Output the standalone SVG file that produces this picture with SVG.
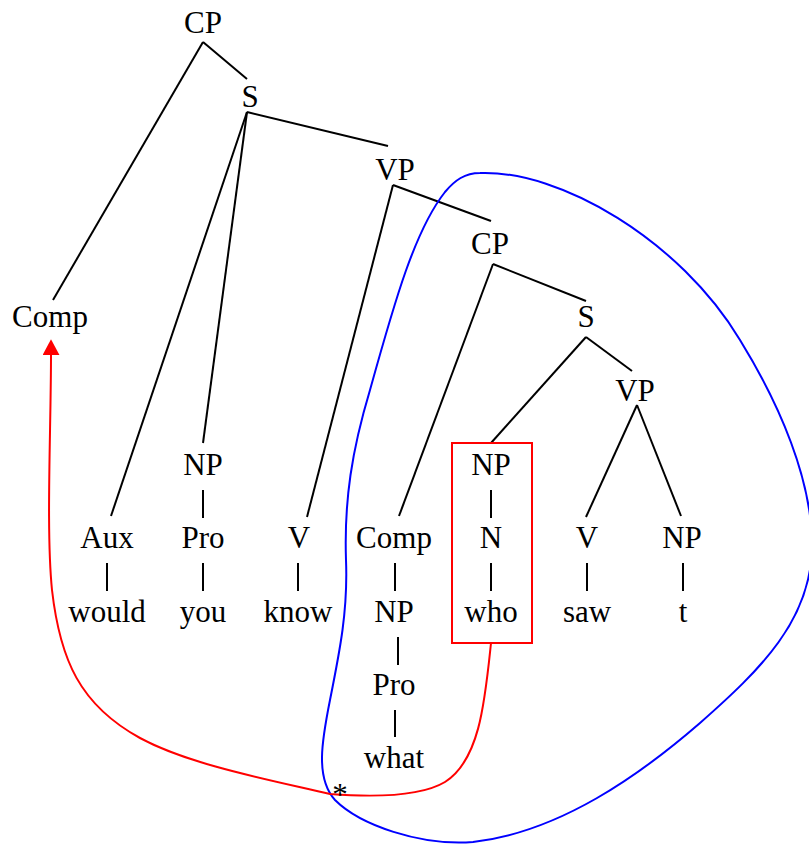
<svg xmlns="http://www.w3.org/2000/svg" width="809" height="844" viewBox="0 0 809 844">
<style>
  text { font-family: "Liberation Serif", "Times New Roman", serif; font-size: 31px; fill: #000; text-anchor: middle; }
  .edge { stroke: #000; stroke-width: 2; fill: none; }
  .move { stroke: #ff0000; stroke-width: 2; fill: none; }
  .island { stroke: #0000ff; stroke-width: 2; fill: none; }
  .box { stroke: #ff0000; stroke-width: 2; fill: none; }
</style>
<defs>
  <marker id="arrow" markerUnits="userSpaceOnUse" markerWidth="16" markerHeight="17" viewBox="0 0 15 16" refX="1" refY="8" orient="auto">
    <path d="M0,0 L15,8 L0,16 Z" fill="#ff0000"/>
  </marker>
</defs>
<rect width="809" height="844" fill="#ffffff"/>

<g id="connectors">
  <line class="edge" x1="203" y1="42" x2="53" y2="300"/>
  <line class="edge" x1="203" y1="42" x2="247" y2="79"/>
  <line class="edge" x1="247" y1="112" x2="111" y2="516"/>
  <line class="edge" x1="247" y1="112" x2="203" y2="443"/>
  <line class="edge" x1="247" y1="112" x2="388" y2="146"/>
  <line class="edge" x1="393" y1="185" x2="307" y2="517"/>
  <line class="edge" x1="393" y1="185" x2="491" y2="221"/>
  <line class="edge" x1="493" y1="264" x2="399" y2="516"/>
  <line class="edge" x1="493" y1="264" x2="586" y2="301"/>
  <line class="edge" x1="586" y1="337" x2="491" y2="443"/>
  <line class="edge" x1="586" y1="337" x2="632" y2="371"/>
  <line class="edge" x1="637" y1="405" x2="586" y2="517"/>
  <line class="edge" x1="637" y1="405" x2="681" y2="516"/>
  <line class="edge" x1="203" y1="490" x2="203" y2="518"/>
  <line class="edge" x1="491" y1="490" x2="491" y2="518"/>
  <line class="edge" x1="107" y1="563" x2="107" y2="591"/>
  <line class="edge" x1="203" y1="563" x2="203" y2="591"/>
  <line class="edge" x1="298" y1="563" x2="298" y2="591"/>
  <line class="edge" x1="395" y1="563" x2="395" y2="591"/>
  <line class="edge" x1="491" y1="563" x2="491" y2="591"/>
  <line class="edge" x1="587" y1="563" x2="587" y2="591"/>
  <line class="edge" x1="683" y1="563" x2="683" y2="591"/>
  <line class="edge" x1="398" y1="637" x2="398" y2="665"/>
  <line class="edge" x1="395" y1="710" x2="395" y2="737"/>
  <path id="island" class="island" d="M480,173 C560,170 680,240 740,340 C780,405 812,480 812,545 C812,620 760,670 700,723 C640,775 560,832 473,842 C420,846 360,825 335,800 C315,778 322,740 330,700 C340,650 348,610 346,560 C344,500 352,450 370,390 C395,300 415,230 445,192 C455,180 465,173 480,173 Z"/>
  <path id="movement" class="move" d="M491,643 C485,700 480,760 445,782 C420,797 370,797 330,794 C270,780 190,765 140,738 C80,705 60,660 52,590 C46,530 51,430 51,354" marker-end="url(#arrow)"/>
</g>

<g id="cp1"><text x="203" y="33">CP</text></g>
<g id="s1"><text x="250" y="107">S</text></g>
<g id="vp1"><text x="395" y="180">VP</text></g>
<g id="cp2"><text x="490" y="254">CP</text></g>
<g id="comp1"><text x="50" y="327">Comp</text></g>
<g id="s2"><text x="586" y="327">S</text></g>
<g id="vp2"><text x="635" y="401">VP</text></g>
<g id="np-you"><text x="203" y="475">NP</text></g>
<g id="np-who-box">
  <rect class="box" x="452" y="443" width="80" height="200"/>
  <text x="491" y="475">NP</text>
</g>
<g id="aux"><text x="107" y="548">Aux</text></g>
<g id="pro-you"><text x="203" y="548">Pro</text></g>
<g id="v-know"><text x="299" y="548">V</text></g>
<g id="comp2"><text x="394" y="548">Comp</text></g>
<g id="n-who"><text x="491" y="548">N</text></g>
<g id="v-saw"><text x="587" y="548">V</text></g>
<g id="np-t"><text x="682" y="548">NP</text></g>
<g id="would"><text x="107" y="622">would</text></g>
<g id="you"><text x="203" y="622">you</text></g>
<g id="know"><text x="298" y="622">know</text></g>
<g id="np-what"><text x="394" y="622">NP</text></g>
<g id="who"><text x="491" y="622">who</text></g>
<g id="saw"><text x="587" y="622">saw</text></g>
<g id="t"><text x="683" y="622">t</text></g>
<g id="pro-what"><text x="394" y="695">Pro</text></g>
<g id="what"><text x="394" y="768">what</text></g>
<g id="star"><text x="340" y="805">*</text></g>
</svg>
